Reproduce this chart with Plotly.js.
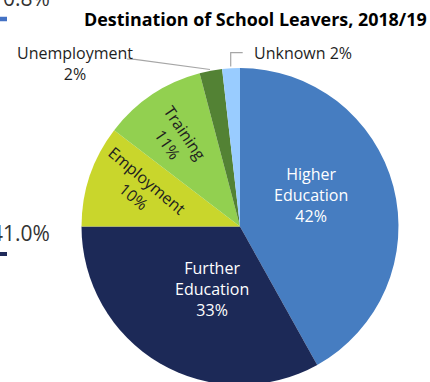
<!DOCTYPE html>
<html>
<head>
<meta charset="utf-8">
<script src="https://cdn.plot.ly/plotly-3.0.1.min.js"></script>
<style>
html, body { margin: 0; padding: 0; overflow: hidden; background: #fff; }
#chart { width: 430px; height: 390px; }
</style>
</head>
<body>
<div id="chart"></div>
<script>
// ---- data ----
var categories = ["Higher Education", "Further Education", "Employment", "Training", "Unemployment", "Unknown"];
var shares = [41.9, 33.1, 10.4, 10.5, 2.3, 1.8];
var chartTitle = "Destination of School Leavers, 2018/19";
// fragments of the neighbouring chart visible at the left edge
var neighbourLabels = ["0.8%", "41.0%"];

// ---- style ----
var colors = ["#467DC1", "#1C2957", "#C9D62C", "#92D050", "#538234", "#99CCFF"];
var W = 430, H = 390;
function px(x) { return x / W; }
function py(y) { return 1 - y / H; }
function pct(i) { return Math.round(shares[i]) + "%"; }

var trace = {
  type: "pie",
  labels: categories,
  values: shares,
  sort: false,
  direction: "clockwise",
  rotation: 0,
  textinfo: "none",
  hoverinfo: "skip",
  marker: { colors: colors, line: { width: 0 } },
  domain: { x: [px(81.5), px(398.5)], y: [py(385), py(68)] },
  showlegend: false
};

var F = "Open Sans, sans-serif";
var dark = "#1f1f1f";
function ann(x, y, text, opts) {
  var a = {
    xref: "paper", yref: "paper", x: px(x), y: py(y), text: text,
    showarrow: false, xanchor: "center", yanchor: "middle",
    font: { family: F, size: 16, color: dark }
  };
  for (var k in opts) a[k] = opts[k];
  return a;
}

var annotations = [
  ann(255.5, 18.5, "<b>" + chartTitle + "</b>", { font: { family: F, size: 17.9, color: "#000" } }),
  ann(311, 195, "Higher<br>Education<br>" + pct(0), { font: { family: F, size: 16, color: "#fff" } }),
  ann(211.5, 289, "Further<br>Education<br>" + pct(1), { font: { family: F, size: 16, color: "#fff" } }),
  ann(140, 188.5, categories[2] + "<br>" + pct(2), { textangle: 40 }),
  ann(176, 138.5, categories[3] + "<br>" + pct(3), { textangle: 56 }),
  ann(74.5, 64, categories[4] + "<br>" + pct(4), {}),
  ann(251.5, 52.7, categories[5] + " " + pct(5), { xanchor: "left" }),
  ann(52, -2, neighbourLabels[0], { xanchor: "right", font: { family: F, size: 21, color: "#333" } }),
  ann(52, 233, neighbourLabels[1], { xanchor: "right", font: { family: F, size: 21, color: "#333" } })
];

function pathPx(points) {
  return points.map(function (p, i) {
    return (i ? "L" : "M") + px(p[0]) + "," + py(p[1]);
  }).join(" ");
}

var shapes = [
  { type: "path", xref: "paper", yref: "paper", path: pathPx([[230.7, 66.5], [230.7, 52.7], [242.7, 52.7]]),
    line: { color: "#A6A6A6", width: 1.2 } },
  { type: "path", xref: "paper", yref: "paper", path: pathPx([[127, 59], [135, 59.3], [210, 69.5]]),
    line: { color: "#A6A6A6", width: 1.2 } },
  { type: "path", xref: "paper", yref: "paper", path: pathPx([[-3, 19], [7, 19]]),
    line: { color: "#4472C4", width: 4.5 } },
  { type: "path", xref: "paper", yref: "paper", path: pathPx([[-3, 254], [7, 254]]),
    line: { color: "#1F2A5A", width: 4 } }
];

var layout = {
  width: W, height: H,
  margin: { l: 0, r: 0, t: 0, b: 0 },
  paper_bgcolor: "#fff",
  plot_bgcolor: "#fff",
  showlegend: false,
  annotations: annotations,
  shapes: shapes,
  font: { family: F }
};

Plotly.newPlot("chart", [trace], layout, { staticPlot: true, displayModeBar: false });
</script>
</body>
</html>
